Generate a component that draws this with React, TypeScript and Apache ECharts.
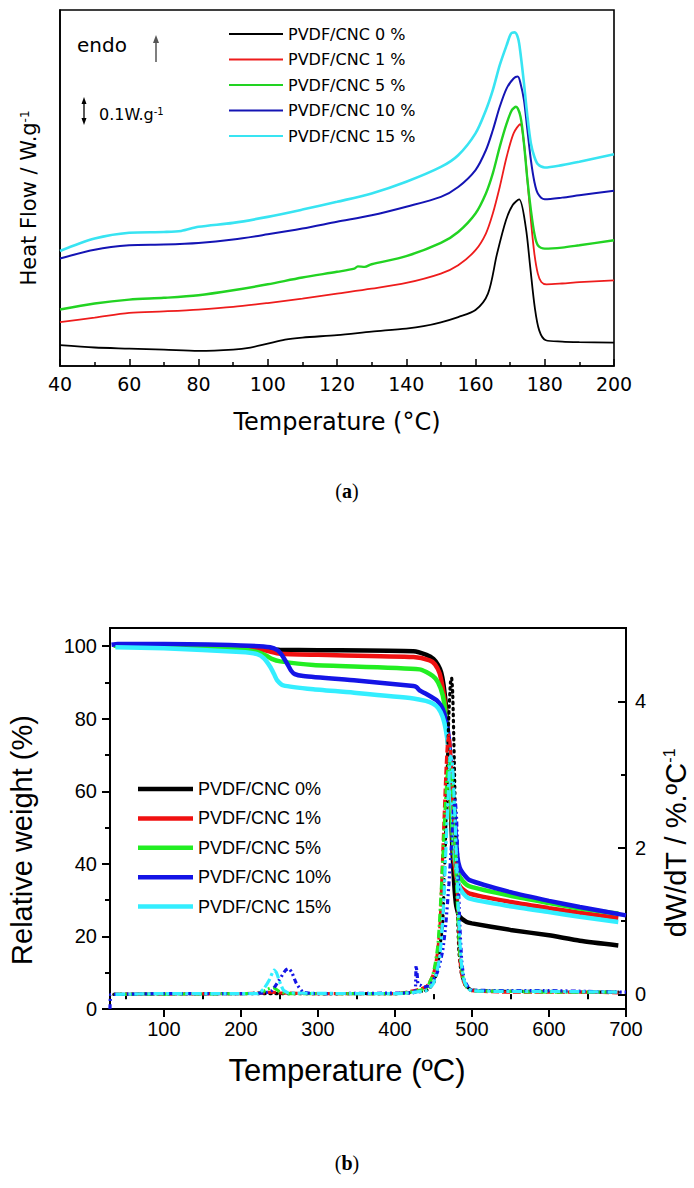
import React, { useEffect, useRef } from "react";
import * as echarts from "echarts";

// ---------- (a) DSC: [temperature °C, heat flow W/g (stacked offset)] ----------
const dsc0 = [[40,0.080],[50,0.071],[60,0.067],[70,0.063],[80,0.058],[90,0.063],[95,0.071],[100,0.086],[105,0.101],[110,0.109],[120,0.119],[130,0.132],[140,0.144],[145,0.153],[150,0.168],[155,0.188],[160,0.215],[163.6,0.278],[166.2,0.43],[168.8,0.56],[170.7,0.618],[172.6,0.640],[174.5,0.535],[175.8,0.381],[177.1,0.227],[178.4,0.137],[180.3,0.099],[185,0.094],[190,0.092],[200,0.090]];
const dsc1 = [[40,0.169],[50,0.186],[60,0.204],[70,0.210],[80,0.217],[90,0.227],[100,0.242],[110,0.259],[120,0.278],[130,0.297],[140,0.319],[150,0.355],[155,0.387],[160,0.445],[163,0.509],[165,0.586],[167,0.688],[169,0.804],[171,0.894],[172.9,0.929],[174,0.855],[175,0.714],[176,0.560],[177,0.432],[178,0.355],[179,0.323],[180.5,0.314],[185,0.317],[190,0.322],[200,0.329]];
const dsc5 = [[40,0.217],[50,0.240],[60,0.255],[70,0.262],[80,0.272],[90,0.291],[100,0.314],[110,0.340],[120,0.362],[125,0.374],[126,0.383],[128,0.381],[130,0.391],[140,0.422],[150,0.473],[155,0.515],[160,0.586],[163,0.663],[165,0.740],[167,0.842],[169,0.932],[170.5,0.983],[171.7,0.996],[173,0.958],[174,0.855],[175,0.714],[176,0.599],[177,0.509],[178,0.464],[180,0.451],[185,0.455],[190,0.464],[200,0.483]];
const dsc10 = [[40,0.413],[50,0.447],[60,0.464],[70,0.467],[80,0.473],[90,0.486],[100,0.506],[110,0.528],[120,0.554],[130,0.579],[140,0.612],[150,0.650],[155,0.688],[160,0.753],[163,0.829],[165,0.906],[167,0.996],[169,1.067],[171,1.105],[172.2,1.112],[173,1.086],[174,1.022],[175,0.906],[176,0.791],[177,0.708],[178,0.663],[180,0.641],[185,0.647],[190,0.656],[200,0.673]];
const dsc15 = [[40,0.442],[50,0.490],[60,0.512],[70,0.515],[75,0.519],[80,0.535],[90,0.550],[100,0.573],[110,0.601],[120,0.631],[130,0.663],[140,0.708],[150,0.765],[155,0.810],[160,0.894],[163,0.983],[165,1.060],[167,1.156],[169,1.233],[170.3,1.278],[171.3,1.282],[172.3,1.259],[173,1.201],[174,1.086],[175,0.958],[176,0.855],[177,0.804],[178,0.776],[180,0.763],[185,0.772],[190,0.785],[200,0.814]];
const dscNames = ["PVDF/CNC 0 %", "PVDF/CNC 1 %", "PVDF/CNC 5 %", "PVDF/CNC 10 %", "PVDF/CNC 15 %"];
const dscColors = ["#000000", "#ee1c1c", "#22d322", "#1414b4", "#38e4f2"];
const dscWidths = [1.8, 1.8, 2.4, 2.0, 2.6];
const dscTicks = [40, 60, 80, 100, 120, 140, 160, 180, 200];

// ---------- (b) TGA: [temperature °C, relative weight %] ----------
const tga0 = [[35,100.2],[100,99.7],[200,99.3],[250,99.0],[300,98.9],[424,98.6],[441,97.6],[450,96.5],[456,94.8],[460,92.8],[463,89.5],[466,84],[468,78],[470,69],[472,58],[474,47],[476,38],[478,31.5],[480,28],[484,25.5],[493,24],[500,23.6],[550,21.8],[600,20.3],[640,18.8],[690,17.5]];
const tga1 = [[35,100.3],[100,99.8],[200,99.3],[229,98.9],[251,97.9],[300,97.6],[424,97.0],[445,96.1],[452,95],[458,92.5],[462,88.5],[465,84],[468,77],[470,69],[472,60],[474,51],[476,44],[478,39],[480,36],[485,33.6],[497,31.8],[550,29.5],[600,27.8],[640,26.5],[690,25.1]];
const tga5 = [[35,100.1],[100,99.7],[200,99.1],[221,98.4],[232,97.5],[240,96.5],[251,95.8],[294,94.8],[432,93.6],[449,91.8],[456,90],[462,86.5],[466,81],[469,74],[471,65],[473,56],[475,48],[478,41],[482,37.5],[488,35.3],[497,33.8],[550,31.2],[600,29.2],[640,27.7],[690,26.3]];
const tga10 = [[32,100.4],[40,100.6],[100,100.6],[200,100.2],[238,99.7],[248,98.8],[254,97.3],[260,95.2],[265,93.3],[270,92.3],[281,91.8],[350,90.5],[424,89],[428,88.7],[432,87.8],[439,87],[448,85.9],[454,85.1],[460,83.5],[464,81.5],[467,79],[470,74.5],[473,66],[476,57],[479,48],[481,42],[484,39],[488,37.5],[497,35.5],[550,32.2],[600,29.8],[640,28.1],[700,25.8]];
const tga15 = [[37,99.7],[100,99.4],[200,98.4],[221,97.8],[230,96.6],[238,94.3],[243,92.3],[247,90.6],[255,89.2],[294,88.1],[350,87.1],[424,85.6],[440,84.9],[449,84.2],[456,83],[462,80.5],[466,77],[470,71],[473,62],[476,52],[478,44],[480,38],[483,34],[488,32],[497,30.4],[550,28.3],[600,26.7],[640,25.4],[690,24.0]];

// ---------- (b) DTG: [temperature °C, dW/dT %/°C] ----------
const dtg0 = [[35,0],[100,0.01],[200,0.01],[300,0.01],[400,0.01],[440,0.05],[450,0.15],[455,0.35],[459,0.7],[462,1.0],[465,1.9],[468,3.1],[470,3.8],[472,4.25],[473.5,4.32],[475,4.1],[477,3.2],[479,2.1],[481,1.2],[483,0.6],[486,0.3],[491,0.13],[500,0.06],[550,0.04],[600,0.04],[650,0.03],[690,0.03]];
const dtg1 = [[35,0],[200,0.01],[230,0.02],[240,0.03],[250,0.02],[300,0.01],[400,0.01],[440,0.1],[450,0.28],[455,0.55],[458.6,0.96],[462.7,2.1],[466,3.0],[468,3.4],[470,3.54],[472,3.35],[473.7,3.0],[476,2.4],[480,1.65],[484.5,0.46],[488,0.2],[493,0.1],[500,0.05],[550,0.03],[600,0.03],[650,0.03],[690,0.02]];
const dtg5 = [[35,0],[200,0.01],[225,0.02],[235,0.07],[242,0.09],[250,0.04],[260,0.01],[400,0.01],[440,0.08],[450,0.3],[456,0.7],[461,1.6],[465,2.5],[468,3.0],[471,3.2],[474,2.95],[477,2.3],[480,1.5],[484,0.6],[488,0.25],[493,0.1],[500,0.05],[550,0.04],[600,0.03],[690,0.03]];
const dtg10 = [[30,-0.2],[31,0],[35,0],[100,0.01],[200,0.01],[230,0.02],[240,0.05],[250,0.2],[258,0.33],[262,0.35],[266,0.3],[272,0.15],[281,0.03],[300,0.01],[420,0.02],[426,0.03],[427.5,0.39],[429,0.25],[430,0.14],[434,0.12],[437,0.1],[445,0.12],[455,0.3],[462,0.6],[466,0.96],[470,1.5],[473.7,2.1],[476,2.5],[478,2.65],[480,2.4],[482,1.65],[484,1.0],[486.7,0.46],[490,0.2],[495,0.1],[500,0.06],[550,0.05],[600,0.05],[650,0.04],[700,0.03]];
const dtg15 = [[37,0],[100,0.01],[200,0.01],[222,0.01],[230,0.08],[237,0.2],[243,0.33],[246,0.3],[250,0.18],[255,0.06],[262,0.02],[400,0.01],[440,0.05],[450,0.15],[458,0.5],[463,1.2],[467,2.2],[470,2.9],[472,3.25],[474,3.2],[476,2.9],[478,2.4],[480,1.8],[483,1.0],[486,0.45],[490,0.18],[495,0.08],[500,0.05],[550,0.04],[600,0.04],[690,0.03]];
const tgaNames = ["PVDF/CNC 0%", "PVDF/CNC 1%", "PVDF/CNC 5%", "PVDF/CNC 10%", "PVDF/CNC 15%"];
const tgaColors = ["#000000", "#f01010", "#22ee22", "#1414e6", "#33eeff"];
const dtgDashes = [[1.5, 4.5], [8, 3], [8, 3, 2, 3], [5, 3, 2, 3, 2, 3], [10, 3, 3, 3]];
const tgaXTicks = [100, 200, 300, 400, 500, 600, 700];
const tgaXMinor = [50, 150, 250, 350, 450, 550, 650];
const tgaYTicks = [0, 20, 40, 60, 80, 100];
const tgaYMinor = [10, 30, 50, 70, 90];
const dtgTicks = [0, 2, 4];
const dtgMinor = [1, 3];

const SANS = "'DejaVu Sans', sans-serif";
const ARIAL = "'Liberation Sans', Arial, sans-serif";
const SERIF = "'Liberation Serif', 'Times New Roman', serif";

export default function App() {
  const ref = useRef<HTMLDivElement>(null);
  useEffect(() => {
    if (!ref.current) return;
    const chart = echarts.init(ref.current, null, { renderer: "svg" });
    const dscData = [dsc0, dsc1, dsc5, dsc10, dsc15];
    const tgaData = [tga0, tga1, tga5, tga10, tga15];
    const dtgData = [dtg0, dtg1, dtg5, dtg10, dtg15];
    const blackLine = { lineStyle: { color: "#000", width: 2 } };

    const series: any[] = [];
    dscData.forEach((d, i) => {
      series.push({
        name: dscNames[i], type: "line", xAxisIndex: 0, yAxisIndex: 0, data: d,
        symbol: "none", smooth: 0.3, color: dscColors[i],
        lineStyle: { color: dscColors[i], width: dscWidths[i] },
      });
    });
    tgaData.forEach((d, i) => {
      series.push({
        name: tgaNames[i], type: "line", xAxisIndex: 1, yAxisIndex: 1, data: d,
        symbol: "none", smooth: 0.2, color: tgaColors[i],
        lineStyle: { color: tgaColors[i], width: 4.5 },
      });
    });
    dtgData.forEach((d, i) => {
      series.push({
        name: "DTG " + tgaNames[i], type: "line", xAxisIndex: 1, yAxisIndex: 2, data: d,
        symbol: "none", smooth: 0.2, color: tgaColors[i],
        lineStyle: { color: tgaColors[i], width: 3.2, type: dtgDashes[i], cap: i === 0 ? "round" : "butt" },
      });
    });

    const option: any = {
      animation: false,
      backgroundColor: "#fff",
      grid: [
        { left: 60, top: 10, width: 554, height: 356, show: true, borderColor: "#000", borderWidth: 1.6, backgroundColor: "transparent" },
        { left: 110, top: 628, width: 516, height: 381, show: true, borderColor: "#000", borderWidth: 2, backgroundColor: "transparent" },
      ],
      legend: [
        {
          orient: "vertical", left: 229, top: 26, padding: 0, itemWidth: 54, itemHeight: 2.2, itemGap: 9.5,
          icon: "rect",
          data: dscNames, selectedMode: false,
          textStyle: { fontFamily: SANS, fontSize: 16, color: "#000", lineHeight: 16 },
        },
        {
          orient: "vertical", left: 138, top: 780, padding: 0, itemWidth: 55, itemHeight: 4.5, itemGap: 11.4,
          icon: "rect",
          data: tgaNames, selectedMode: false,
          textStyle: { fontFamily: ARIAL, fontSize: 18, color: "#000", lineHeight: 18 },
        },
      ],
      xAxis: [
        {
          gridIndex: 0, type: "value", min: 40, max: 200, interval: 20,
          axisLine: { lineStyle: { color: "#000", width: 1.6 } },
          axisTick: { inside: true, length: 7, lineStyle: { color: "#000", width: 1.5 } },
          minorTick: { show: true, splitNumber: 2, length: 4, lineStyle: { color: "#000", width: 1.5 } },
          axisLabel: { fontFamily: SANS, fontSize: 19, color: "#000", margin: 8, customValues: dscTicks },
          splitLine: { show: false },
        },
        {
          gridIndex: 1, type: "value", min: 30, max: 700, position: "bottom",
          axisLine: blackLine,
          axisTick: { inside: false, length: 7, customValues: tgaXTicks, lineStyle: { color: "#000", width: 2 } },
          axisLabel: { fontFamily: ARIAL, fontSize: 20, color: "#000", margin: 10, customValues: tgaXTicks },
          splitLine: { show: false },
        },
        {
          gridIndex: 1, type: "value", min: 30, max: 700, position: "bottom",
          axisLine: { show: false },
          axisTick: { inside: false, length: 4, customValues: tgaXMinor, lineStyle: { color: "#000", width: 2 } },
          axisLabel: { show: false },
          splitLine: { show: false },
        },
        {
          gridIndex: 1, type: "value", min: 30, max: 700, position: "top",
          axisLine: blackLine,
          axisTick: { inside: true, length: 8, customValues: tgaXTicks, lineStyle: { color: "#000", width: 2 } },
          axisLabel: { show: false },
          splitLine: { show: false },
        },
        {
          gridIndex: 1, type: "value", min: 30, max: 700, position: "top",
          axisLine: { show: false },
          axisTick: { inside: true, length: 5, customValues: tgaXMinor, lineStyle: { color: "#000", width: 2 } },
          axisLabel: { show: false },
          splitLine: { show: false },
        },
      ],
      yAxis: [
        {
          gridIndex: 0, type: "value", min: 0, max: 1.368,
          axisLine: { show: true, lineStyle: { color: "#000", width: 1.6 } },
          axisTick: { show: false }, axisLabel: { show: false }, splitLine: { show: false },
        },
        {
          gridIndex: 1, type: "value", min: 0, max: 105, position: "left",
          axisLine: { show: true, lineStyle: { color: "#000", width: 2 } },
          axisTick: { show: true, inside: false, length: 8, customValues: tgaYTicks, lineStyle: { color: "#000", width: 2 } },
          axisLabel: { fontFamily: ARIAL, fontSize: 20, color: "#000", margin: 13, customValues: tgaYTicks },
          splitLine: { show: false },
        },
        {
          gridIndex: 1, type: "value", min: -0.2, max: 5, position: "right",
          axisLine: { show: true, lineStyle: { color: "#000", width: 2 } },
          axisTick: { show: true, inside: true, length: 8, customValues: dtgTicks, lineStyle: { color: "#000", width: 2 } },
          axisLabel: { fontFamily: ARIAL, fontSize: 20, color: "#000", margin: 9, customValues: dtgTicks },
          splitLine: { show: false },
        },
        {
          gridIndex: 1, type: "value", min: 0, max: 105, position: "left",
          axisLine: { show: false },
          axisTick: { show: true, inside: false, length: 5, customValues: tgaYMinor, lineStyle: { color: "#000", width: 2 } },
          axisLabel: { show: false }, splitLine: { show: false },
        },
        {
          gridIndex: 1, type: "value", min: -0.2, max: 5, position: "right",
          axisLine: { show: false },
          axisTick: { show: true, inside: true, length: 5, customValues: dtgMinor, lineStyle: { color: "#000", width: 2 } },
          axisLabel: { show: false }, splitLine: { show: false },
        },
      ],
      graphic: [
        { type: "text", x: 77, y: 45, style: { text: "endo", fontFamily: SANS, fontSize: 20, fill: "#000", verticalAlign: "middle" } },
        { type: "line", shape: { x1: 156, y1: 62, x2: 156, y2: 40 }, style: { stroke: "#555", lineWidth: 1.5 } },
        { type: "polygon", shape: { points: [[156, 35], [153, 43], [159, 43]] }, style: { fill: "#555" } },
        { type: "line", shape: { x1: 84, y1: 103, x2: 84, y2: 119 }, style: { stroke: "#000", lineWidth: 1.3 } },
        { type: "polygon", shape: { points: [[84, 97], [81.5, 104], [86.5, 104]] }, style: { fill: "#000" } },
        { type: "polygon", shape: { points: [[84, 125], [81.5, 118], [86.5, 118]] }, style: { fill: "#000" } },
        {
          type: "text", x: 99, y: 114,
          style: {
            text: "{a|0.1W.g}{s|-1}", verticalAlign: "middle",
            rich: { a: { fontFamily: SANS, fontSize: 16, color: "#000" }, s: { fontFamily: SANS, fontSize: 10, color: "#000", verticalAlign: "top" } },
          },
        },
        {
          type: "text", x: 29, y: 198, rotation: Math.PI / 2,
          style: {
            text: "{a|Heat Flow / W.g}{s|-1}", align: "center", verticalAlign: "middle",
            rich: { a: { fontFamily: SANS, fontSize: 21, color: "#000" }, s: { fontFamily: SANS, fontSize: 12, color: "#000", verticalAlign: "top" } },
          },
        },
        { type: "text", x: 337, y: 422, style: { text: "Temperature (°C)", fontFamily: SANS, fontSize: 24, fill: "#000", align: "center", verticalAlign: "middle" } },
        {
          type: "text", x: 347, y: 491,
          style: { text: "({b|a})", align: "center", verticalAlign: "middle", rich: { b: { fontFamily: SERIF, fontSize: 20, fontWeight: "bold", color: "#000" } }, fontFamily: SERIF, fontSize: 20, fill: "#000" },
        },
        { type: "text", x: 22, y: 840, rotation: Math.PI / 2, style: { text: "Relative weight (%)", fontFamily: ARIAL, fontSize: 29, fill: "#000", align: "center", verticalAlign: "middle" } },
        { type: "text", x: 347, y: 1070, style: { text: "Temperature (ºC)", fontFamily: ARIAL, fontSize: 31, fill: "#000", align: "center", verticalAlign: "middle" } },
        {
          type: "text", x: 676, y: 843, rotation: Math.PI / 2,
          style: {
            text: "{a|dW/dT / %.ºC}{s|-1}", align: "center", verticalAlign: "middle",
            rich: { a: { fontFamily: ARIAL, fontSize: 29, color: "#000" }, s: { fontFamily: ARIAL, fontSize: 16, color: "#000", verticalAlign: "top" } },
          },
        },
        {
          type: "text", x: 347, y: 1163,
          style: { text: "({b|b})", align: "center", verticalAlign: "middle", rich: { b: { fontFamily: SERIF, fontSize: 20, fontWeight: "bold", color: "#000" } }, fontFamily: SERIF, fontSize: 20, fill: "#000" },
        },
      ],
      series,
    };
    chart.setOption(option);
    return () => chart.dispose();
  }, []);
  return <div ref={ref} style={{ position: "absolute", left: 0, top: 0, width: 694, height: 1188, background: "#fff" }} />;
}
